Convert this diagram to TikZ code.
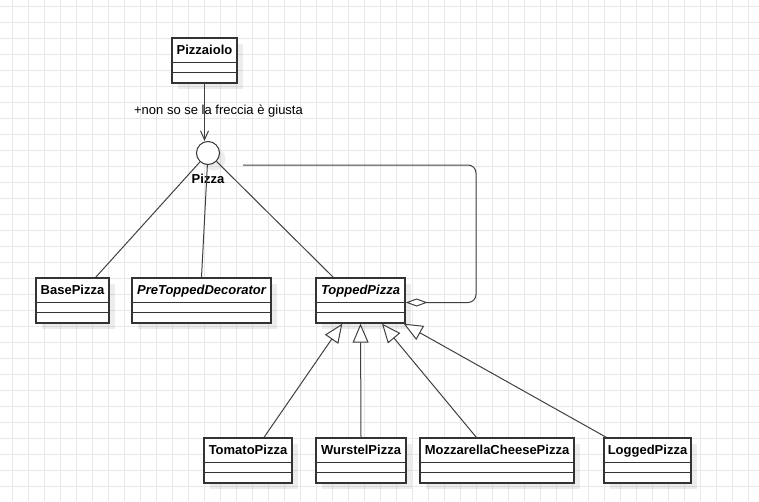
\documentclass[tikz,border=0pt]{standalone}
\usepackage{fontspec}
\setmainfont{Liberation Sans}
\usepackage{tikz}
\usetikzlibrary{arrows.meta,shadows}
\newcommand{\umlfont}{\fontsize{13}{15}\selectfont}
\newcommand{\compartments}[1]{%
  \foreach \dy in {25,35}
    \draw[draw=black!80, line width=1.3pt] ([yshift=-\dy pt]#1.north west) -- ([yshift=-\dy pt]#1.north east);}
\tikzset{
  gridline/.style={draw=black!9, line width=1pt},
  softshadow/.style={drop shadow={fill=black, opacity=0.07, shadow xshift=6pt, shadow yshift=-6pt}},
  classbox/.style={draw=black!80, line width=1.3pt, fill=white, inner xsep=0pt, inner ysep=0pt,
    text height=16.5pt, text depth=28.5pt, font=\umlfont\bfseries, softshadow},
  assoc/.style={draw=black!75, line width=1pt},
  inherit/.style={assoc, -{Triangle[open, length=19pt, width=16pt, fill=white]}},
}

\begin{document}
\begin{tikzpicture}[x=1pt, y=-1pt]
  \useasboundingbox (0, 0) rectangle (759, 501);
  \foreach \gx in {12,28,...,759} \draw[gridline] (\gx, 0) -- (\gx, 501);
  \foreach \gy in {6,22,...,501} \draw[gridline] (0, \gy) -- (759, \gy);

  \node[classbox, minimum width=65pt] (pizzaiolo) at (204.5, 60.5) {Pizzaiolo};
  \node[draw=black!80, line width=1pt, circle, minimum size=23pt, inner sep=0pt, fill=white, softshadow] (pizza) at (208, 153) {};
  \node[font=\umlfont\bfseries, anchor=base] (pizzaname) at (208, 183) {Pizza};

  \node[classbox, minimum width=73pt] (basepizza) at (72.5, 300.5) {BasePizza};
  \node[classbox, minimum width=139pt, font=\umlfont\bfseries\itshape] (pretopped) at (201.5, 300.5) {PreToppedDecorator};
  \node[classbox, minimum width=89pt, font=\umlfont\bfseries\itshape] (topped) at (360.5, 300.5) {ToppedPizza};

  \node[classbox, minimum width=88pt] (tomato) at (248, 460.5) {TomatoPizza};
  \node[classbox, minimum width=90pt] (wurstel) at (361, 460.5) {WurstelPizza};
  \node[classbox, minimum width=154pt] (mozzarella) at (497, 460.5) {MozzarellaCheesePizza};
  \node[classbox, minimum width=87pt] (logged) at (647.5, 460.5) {LoggedPizza};

  \foreach \n in {pizzaiolo, basepizza, pretopped, topped, tomato, wurstel, mozzarella, logged}
    \compartments{\n};

  \draw[assoc, -{Straight Barb[length=9pt, width=8pt]}] (pizzaiolo.south) -- node[pos=0.47, xshift=14pt, font=\umlfont] (arrowlabel) {+non so se la freccia è giusta} (pizzaiolo.south |- pizza.north);

  \draw[assoc] (pizza) -- ([xshift=-14pt]basepizza.north east);
  \draw[assoc] (pizza) -- (pretopped.north);
  \draw[assoc] (pizza) -- ([xshift=18pt]topped.north west);

  \coordinate (loopend) at (243, 165);
  \coordinate (loopcorner) at (476, 165);
  \draw[assoc, rounded corners=8pt, -{Diamond[open, length=22pt, width=8pt, fill=white]}] (loopend) -- (loopcorner) |- ([yshift=-2pt]topped.east);

  \draw[inherit] ([xshift=16pt]tomato.north) -- ([xshift=27pt]topped.south west);
  \draw[inherit] (wurstel.north) -- (topped.south);
  \draw[inherit] ([xshift=57pt]mozzarella.north west) -- ([xshift=21.5pt]topped.south);
  \draw[inherit] ([xshift=3pt]logged.north west) -- ([xshift=-2pt]topped.south east);
\end{tikzpicture}
\end{document}
